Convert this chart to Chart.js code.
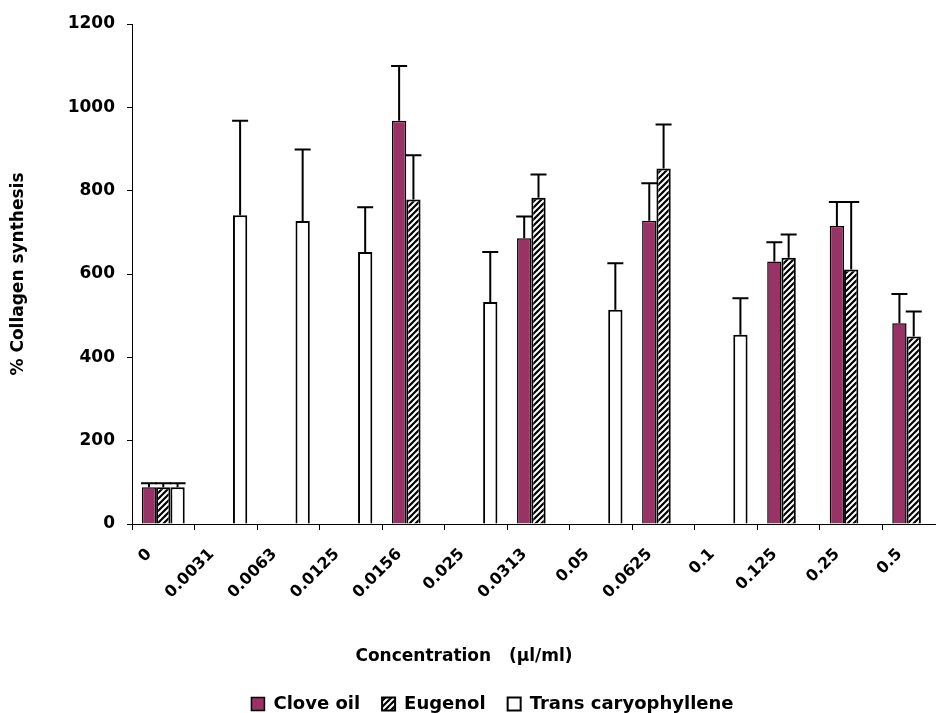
<!DOCTYPE html>
<html>
<head>
<meta charset="utf-8">
<script src="https://cdn.jsdelivr.net/npm/chart.js@4.4.1/dist/chart.umd.min.js"></script>
<style>
  html, body { margin: 0; padding: 0; background: #fff; overflow: hidden; }
  #wrap { width: 984px; height: 713px; }
</style>
</head>
<body>
<div id="wrap"><canvas id="collagenChart" width="984" height="713"></canvas></div>
<script>
// Concentration (µl/ml) categories
const concentrations = ['0', '0.0031', '0.0063', '0.0125', '0.0156', '0.025', '0.0313', '0.05', '0.0625', '0.1', '0.125', '0.25', '0.5'];

// % collagen synthesis, null = not tested
const cloveOil = [88, null, null, null, 968, null, 686, null, 728, null, 630, 715, 482];
const eugenol = [88, null, null, null, 779, null, 783, null, 853, null, 639, 611, 450];
const transCaryophyllene = [88, 741, 727, 653, null, 533, null, 514, null, 454, null, null, null];

// upper error bar lengths
const cloveOilErr = [10, null, null, null, 131, null, 52, null, 90, null, 46, 58, 70];
const eugenolErr = [10, null, null, null, 106, null, 56, null, 106, null, 56, 162, 60];
const transCaryophylleneErr = [10, 227, 172, 107, null, 120, null, 112, null, 88, null, null, null];

const yTicks = [0, 200, 400, 600, 800, 1000, 1200];
const xAxisTitle = 'Concentration   (\u00b5l/ml)';
const yAxisTitle = '% Collagen synthesis';

const errorsBySeries = [cloveOilErr, eugenolErr, transCaryophylleneErr];
const FONT = '"DejaVu Sans", Arial, sans-serif';

function makeHatch() {
    const c = document.createElement('canvas');
    c.width = 6;
    c.height = 6;
    const g = c.getContext('2d');
    g.fillStyle = '#000';
    g.fillRect(0, 0, 6, 6);
    g.strokeStyle = '#fff';
    g.lineWidth = 2;
    g.beginPath();
    g.moveTo(-1, 7); g.lineTo(7, -1);
    g.moveTo(-1, 1); g.lineTo(1, -1);
    g.moveTo(5, 7); g.lineTo(7, 5);
    g.stroke();
    return g.createPattern(c, 'repeat');
}

// upper error bars, drawn from the bar elements and the y scale
const errorBars = {
    id: 'errorBars',
    afterDatasetsDraw(chart) {
        const { ctx, scales: { y } } = chart;
        ctx.save();
        ctx.strokeStyle = '#000';
        ctx.lineWidth = 2;
        chart.data.datasets.forEach((ds, i) => {
            const errs = errorsBySeries[i];
            chart.getDatasetMeta(i).data.forEach((bar, j) => {
                const v = ds.data[j];
                const e = errs[j];
                if (v == null || e == null) return;
                const top = y.getPixelForValue(v + e);
                ctx.beginPath();
                ctx.moveTo(bar.x, bar.y);
                ctx.lineTo(bar.x, top);
                ctx.moveTo(bar.x - 8, top);
                ctx.lineTo(bar.x + 8, top);
                ctx.stroke();
            });
        });
        ctx.restore();
    }
};

// x axis title sits left of the plot centre in the original,
// and the legend row sits lower and further right than Chart.js puts it
const xTitle = {
    id: 'xTitle',
    afterLayout(chart) {
        const lg = chart.legend;
        if (lg) {
            lg.top += 10;
            lg.bottom += 10;
            lg.left += 20;
            lg.right += 20;
        }
    },
    afterDraw(chart) {
        const ctx = chart.ctx;
        ctx.save();
        ctx.font = 'bold 17px ' + FONT;
        ctx.fillStyle = '#000';
        ctx.textAlign = 'center';
        ctx.textBaseline = 'middle';
        ctx.fillText(xAxisTitle, 464, 657);
        ctx.restore();
    }
};

const hatch = makeHatch();

new Chart(document.getElementById('collagenChart'), {
    type: 'bar',
    data: {
        labels: concentrations,
        datasets: [
            {
                label: 'Clove oil',
                data: cloveOil,
                backgroundColor: '#993366',
                borderColor: '#000',
                borderWidth: 1.5
            },
            {
                label: 'Eugenol',
                data: eugenol,
                backgroundColor: hatch,
                borderColor: '#000',
                borderWidth: 2
            },
            {
                label: 'Trans caryophyllene',
                data: transCaryophyllene,
                backgroundColor: '#fff',
                borderColor: '#000',
                borderWidth: 2
            }
        ]
    },
    options: {
        responsive: false,
        animation: false,
        categoryPercentage: 0.686,
        barPercentage: 1.0,
        layout: {
            padding: { top: 24, left: 0, right: 39, bottom: 0 }
        },
        plugins: {
            tooltip: { enabled: false },
            legend: {
                position: 'bottom',
                labels: {
                    boxWidth: 13,
                    boxHeight: 13,
                    padding: 22,
                    color: '#000',
                    font: { family: FONT, size: 18, weight: 'bold' }
                }
            }
        },
        scales: {
            x: {
                afterFit(scale) {
                    const legendH = scale.chart.legend ? scale.chart.legend.height : 0;
                    scale.height = scale.chart.height - 524 - legendH;
                },
                grid: {
                    display: true,
                    drawOnChartArea: false,
                    drawTicks: true,
                    tickLength: 6,
                    color: '#000',
                    lineWidth: 1
                },
                border: { display: true, color: '#000', width: 1 },
                ticks: {
                    autoSkip: false,
                    maxRotation: 45,
                    minRotation: 45,
                    labelOffset: -14,
                    padding: 15,
                    color: '#000',
                    font: { family: FONT, size: 16, weight: 'bold' }
                }
            },
            y: {
                min: 0,
                max: 1200,
                afterFit(scale) {
                    scale.width = 132;
                },
                afterBuildTicks(scale) {
                    scale.ticks = yTicks.map(v => ({ value: v }));
                },
                grid: {
                    display: true,
                    drawOnChartArea: false,
                    drawTicks: true,
                    tickLength: 5,
                    color: '#000',
                    lineWidth: 1
                },
                border: { display: true, color: '#000', width: 1 },
                ticks: {
                    padding: 12,
                    color: '#000',
                    callback: v => String(v),
                    font: { family: FONT, size: 17, weight: 'bold' }
                },
                title: {
                    display: true,
                    text: yAxisTitle,
                    color: '#000',
                    padding: { top: 8, bottom: 0 },
                    font: { family: FONT, size: 17, weight: 'bold' }
                }
            }
        }
    },
    plugins: [errorBars, xTitle]
});
</script>
</body>
</html>
